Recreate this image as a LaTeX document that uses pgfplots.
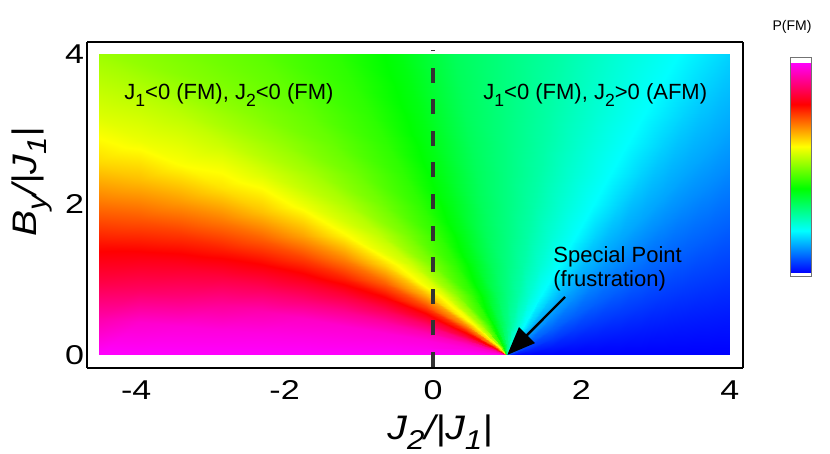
\documentclass[border=0pt]{standalone}
\usepackage{fontspec}
\setmainfont{Liberation Sans}
\newfontfamily\ticksans[FakeStretch=1.25]{Liberation Sans}
\newfontfamily\labelsans[FakeStretch=1.15]{Liberation Sans}
\usepackage{graphicx}
\usepackage{pgfplots}
\pgfplotsset{compat=1.18}
\usetikzlibrary{arrows.meta}
\newcommand{\sub}[1]{\raisebox{-0.3em}{\scalebox{0.8}{#1}}}
\pgfplotsset{colormap={fmhue}{rgb255=(0,0,255) rgb255=(0,255,255) rgb255=(0,255,0)
  rgb255=(255,255,0) rgb255=(255,0,0) rgb255=(255,0,255)}}

\begin{document}
\begin{tikzpicture}
\useasboundingbox (0,0) rectangle (415pt,227pt);
\begin{axis}[
  at={(43.5pt,43pt)}, anchor=south west,
  scale only axis, width=328pt, height=163pt,
  view={0}{90},
  xmin=-4.663, xmax=4.178, ymin=-0.173, ymax=4.16, zmin=-1, zmax=1,
  xtick={-4,-2,0,2,4}, xticklabels={-4,-2,0,2,4},
  ytick={0,2,4}, yticklabels={0,2,4}, ztick=\empty,
  major tick length=0pt,
  tick label style={font=\ticksans\fontsize{13.6}{15}\selectfont},
  xticklabel style={yshift=-2.8pt},
  yticklabel style={xshift=2pt},
  axis line style={line width=1.3pt},
  colormap name=fmhue,
  point meta min=0, point meta max=1,
  colorbar,
  colorbar style={
    at={(parent axis.north east)}, anchor=north west, xshift=15pt, yshift=-8pt,
    scale only axis, width=10.5pt, height=109.5pt,
    ytick=\empty, ymin=-0.02, ymax=1.02,
    axis line style={draw=black!55, line width=0.5pt},
  },
]
% P(FM) sampled along rays from the special point (1,0)
\addplot3[surf, shader=interp, point meta=explicit]
  table[x=x, y=y, z expr=0, meta=p] {
x y p
1 0 0
1.09 0 0
1.3 0 0
1.6 0 0
1.9 0 0
2.2 0 0
2.5 0 0
2.8 0 0
3.1 0 0
3.4 0 0
3.7 0 0
4 0 0

1 0 0.02
1.09 0.016 0.02
1.3 0.053 0.02
1.6 0.106 0.02
1.9 0.159 0.02
2.2 0.212 0.02
2.5 0.265 0.02
2.8 0.317 0.02
3.1 0.370 0.02
3.4 0.423 0.02
3.7 0.476 0.02
4 0.529 0.02

1 0 0.045
1.09 0.033 0.045
1.3 0.109 0.045
1.6 0.218 0.045
1.9 0.328 0.045
2.2 0.437 0.045
2.5 0.546 0.045
2.8 0.655 0.045
3.1 0.764 0.045
3.4 0.874 0.045
3.7 0.983 0.045
4 1.092 0.045

1 0 0.075
1.09 0.052 0.075
1.3 0.173 0.075
1.6 0.346 0.075
1.9 0.520 0.075
2.2 0.693 0.075
2.5 0.866 0.075
2.8 1.039 0.075
3.1 1.212 0.075
3.4 1.386 0.075
3.7 1.559 0.075
4 1.732 0.075

1 0 0.11
1.09 0.076 0.11
1.3 0.252 0.11
1.6 0.503 0.11
1.9 0.755 0.11
2.2 1.007 0.11
2.5 1.259 0.11
2.8 1.510 0.11
3.1 1.762 0.11
3.4 2.014 0.11
3.7 2.265 0.11
4 2.517 0.11

1 0 0.13
1.09 0.09 0.13
1.3 0.3 0.13
1.6 0.6 0.13
1.9 0.9 0.13
2.2 1.2 0.13
2.5 1.5 0.13
2.8 1.8 0.13
3.1 2.1 0.13
3.4 2.4 0.13
3.7 2.7 0.13
4 3 0.13

1 0 0.165
1.09 0.12 0.165
1.3 0.4 0.165
1.6 0.8 0.165
1.9 1.2 0.165
2.2 1.6 0.165
2.5 2.0 0.165
2.8 2.4 0.165
3.1 2.8 0.165
3.4 3.2 0.165
3.7 3.6 0.165
4 4 0.165

1 0 0.20
1.069 0.12 0.20
1.231 0.4 0.20
1.462 0.8 0.20
1.693 1.2 0.20
1.924 1.6 0.20
2.155 2.0 0.20
2.385 2.4 0.20
2.616 2.8 0.20
2.847 3.2 0.20
3.078 3.6 0.20
3.309 4 0.20

1 0 0.235
1.044 0.12 0.235
1.146 0.4 0.235
1.291 0.8 0.235
1.437 1.2 0.235
1.582 1.6 0.235
1.728 2.0 0.235
1.874 2.4 0.235
2.019 2.8 0.235
2.165 3.2 0.235
2.310 3.6 0.235
2.456 4 0.235

1 0 0.27
1.021 0.12 0.27
1.071 0.4 0.27
1.141 0.8 0.27
1.212 1.2 0.27
1.282 1.6 0.27
1.353 2.0 0.27
1.423 2.4 0.27
1.494 2.8 0.27
1.564 3.2 0.27
1.635 3.6 0.27
1.705 4 0.27

1 0 0.30
1 0.12 0.30
1 0.4 0.30
1 0.8 0.30
1 1.2 0.30
1 1.6 0.30
1 2.0 0.30
1 2.4 0.30
1 2.8 0.30
1 3.2 0.30
1 3.6 0.30
1 4 0.30

1 0 0.33
0.979 0.12 0.33
0.930 0.4 0.33
0.859 0.8 0.33
0.789 1.2 0.33
0.718 1.6 0.33
0.648 2.0 0.33
0.577 2.4 0.33
0.507 2.8 0.33
0.436 3.2 0.33
0.366 3.6 0.33
0.295 4 0.33

1 0 0.375
0.956 0.12 0.375
0.854 0.4 0.376
0.709 0.8 0.377
0.563 1.2 0.378
0.418 1.6 0.379
0.272 2.0 0.380
0.126 2.4 0.382
-0.019 2.8 0.383
-0.165 3.2 0.385
-0.310 3.6 0.387
-0.456 4 0.389

1 0 0.436
0.931 0.12 0.436
0.769 0.4 0.436
0.538 0.8 0.436
0.307 1.2 0.435
0.076 1.6 0.435
-0.155 2.0 0.435
-0.385 2.4 0.435
-0.616 2.8 0.435
-0.847 3.2 0.435
-1.078 3.6 0.435
-1.309 4 0.435

1 0 0.533
0.899 0.12 0.529
0.664 0.4 0.521
0.329 0.8 0.509
-0.007 1.2 0.499
-0.342 1.6 0.493
-0.678 2.0 0.488
-1.014 2.4 0.484
-1.349 2.8 0.480
-1.685 3.2 0.477
-2.020 3.6 0.475
-2.356 4 0.472

1 0 0.614
0.871 0.12 0.607
0.571 0.4 0.593
0.142 0.8 0.577
-0.287 1.2 0.562
-0.716 1.6 0.549
-1.145 2.0 0.536
-1.574 2.4 0.525
-2.003 2.8 0.515
-2.432 3.2 0.505
-2.861 3.6 0.498
-3.29 4 0.494

1 0 0.714
0.835 0.12 0.706
0.45 0.4 0.687
-0.1 0.8 0.659
-0.65 1.2 0.632
-1.2 1.6 0.605
-1.75 2.0 0.587
-2.3 2.4 0.572
-2.85 2.8 0.558
-3.4 3.2 0.546
-3.95 3.6 0.534
-4.5 4 0.523

1 0 0.8
0.835 0.095 0.792
0.45 0.318 0.775
-0.1 0.635 0.749
-0.65 0.953 0.724
-1.2 1.27 0.698
-1.75 1.588 0.673
-2.3 1.905 0.648
-2.85 2.223 0.622
-3.4 2.54 0.598
-3.95 2.858 0.585
-4.5 3.175 0.573

1 0 0.867
0.835 0.077 0.86
0.45 0.257 0.844
-0.1 0.513 0.821
-0.65 0.770 0.799
-1.2 1.026 0.774
-1.75 1.283 0.750
-2.3 1.539 0.726
-2.85 1.796 0.702
-3.4 2.052 0.677
-3.95 2.309 0.653
-4.5 2.565 0.629

1 0 0.92
0.835 0.06 0.916
0.45 0.200 0.907
-0.1 0.4 0.888
-0.65 0.601 0.866
-1.2 0.801 0.845
-1.75 1.001 0.823
-2.3 1.201 0.802
-2.85 1.401 0.779
-3.4 1.602 0.756
-3.95 1.802 0.732
-4.5 2.002 0.709

1 0 0.96
0.835 0.044 0.957
0.45 0.147 0.950
-0.1 0.295 0.939
-0.65 0.442 0.926
-1.2 0.59 0.91
-1.75 0.737 0.890
-2.3 0.884 0.869
-2.85 1.032 0.849
-3.4 1.179 0.828
-3.95 1.327 0.808
-4.5 1.474 0.787

1 0 0.973
0.835 0.029 0.973
0.45 0.097 0.971
-0.1 0.194 0.969
-0.65 0.291 0.966
-1.2 0.388 0.962
-1.75 0.485 0.953
-2.3 0.582 0.937
-2.85 0.679 0.917
-3.4 0.776 0.894
-3.95 0.873 0.874
-4.5 0.970 0.854

1 0 0.987
0.835 0.014 0.987
0.45 0.048 0.986
-0.1 0.096 0.984
-0.65 0.144 0.983
-1.2 0.192 0.981
-1.75 0.241 0.979
-2.3 0.289 0.976
-2.85 0.337 0.972
-3.4 0.385 0.968
-3.95 0.433 0.960
-4.5 0.481 0.935

1 0 1
0.835 0 1
0.45 0 1
-0.1 0 1
-0.65 0 1
-1.2 0 1
-1.75 0 1
-2.3 0 1
-2.85 0 1
-3.4 0 1
-3.95 0 1
-4.5 0 1
};

\draw[black!80, line width=1.6pt, dash pattern=on 7.5pt off 8.3pt]
  (axis cs:0,-0.16,0) -- (axis cs:0,4.056,0);
\draw[line width=1.2pt, -{Triangle[length=14pt,width=11pt]}]
  (axis cs:1.779,0.771,0) -- (axis cs:1.0,0.0,0);

\node[anchor=base west, inner sep=0pt, font=\fontsize{11}{13}\selectfont]
  at (axis cs:-4.164,3.39,0) {J\sub{1}<0 (FM), J\sub{2}<0 (FM)};
\node[anchor=base west, inner sep=0pt, font=\fontsize{11}{13}\selectfont]
  at (axis cs:0.674,3.39,0) {J\sub{1}<0 (FM), J\sub{2}>0 (AFM)};
\node[anchor=base west, inner sep=0pt, font=\fontsize{11}{13}\selectfont]
  at (axis cs:1.617,1.223,0) {Special Point};
\node[anchor=base west, inner sep=0pt, font=\fontsize{11}{13}\selectfont]
  at (axis cs:1.617,0.904,0) {(frustration)};
\end{axis}

\node[font=\fontsize{7}{8}\selectfont] at (396pt,213.5pt) {P(FM)};
\node[font=\labelsans\fontsize{17}{19}\selectfont\itshape] at (220pt,11pt) {J\sub{2}/|J\sub{1}|};
\node[font=\labelsans\fontsize{17}{19}\selectfont\itshape, rotate=90] at (16pt,136pt) {B\sub{y}/|J\sub{1}|};
\end{tikzpicture}
\end{document}
